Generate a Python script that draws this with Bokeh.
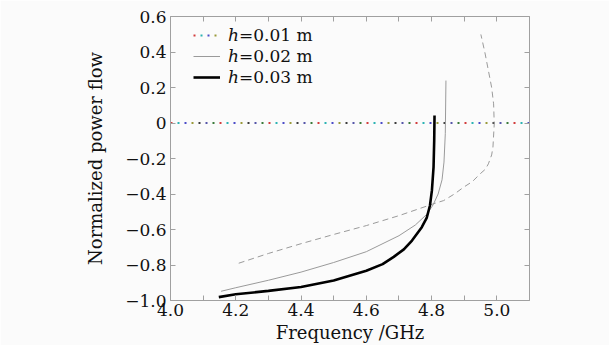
from bokeh.plotting import figure
from bokeh.models import (FixedTicker, LinearAxis, Range1d, Legend, LegendItem,
                          CustomJSTickFormatter)
from bokeh.embed import file_html
from bokeh.resources import INLINE

# ---- data ----
freq_h1 = [4.0, 5.1]
flow_h1 = [0.0, 0.0]

freq_h2 = [4.155, 4.20, 4.30, 4.40, 4.50, 4.60, 4.70, 4.75, 4.785, 4.805, 4.820,
           4.832, 4.838, 4.842, 4.844]
flow_h2 = [-0.948, -0.928, -0.886, -0.840, -0.786, -0.725, -0.635, -0.575, -0.515,
           -0.46, -0.40, -0.32, -0.22, -0.06, 0.239]

freq_h3 = [4.148, 4.20, 4.30, 4.40, 4.50, 4.60, 4.65, 4.684, 4.715, 4.740, 4.770,
           4.785, 4.795, 4.801, 4.806, 4.808, 4.809]
flow_h3 = [-0.981, -0.965, -0.946, -0.924, -0.887, -0.832, -0.795, -0.754, -0.712,
           -0.662, -0.587, -0.535, -0.465, -0.38, -0.249, -0.10, 0.042]

freq_dash = [4.209, 4.30, 4.40, 4.50, 4.60, 4.70, 4.806, 4.837, 4.870, 4.898, 4.925,
             4.949, 4.965, 4.974, 4.984, 4.988, 4.992, 4.990, 4.984, 4.974, 4.963, 4.951]
flow_dash = [-0.79, -0.735, -0.68, -0.628, -0.578, -0.522, -0.455, -0.437, -0.40,
             -0.362, -0.33, -0.286, -0.26, -0.23, -0.18, -0.136, -0.005, 0.108, 0.20,
             0.296, 0.40, 0.499]

x_ticks = [4.0, 4.2, 4.4, 4.6, 4.8, 5.0]
x_minor = [4.1, 4.3, 4.5, 4.7, 4.9, 5.1]
x_labels = ["4.0", "4.2", "4.4", "4.6", "4.8", "5.0"]
y_ticks = [-1.0, -0.8, -0.6, -0.4, -0.2, 0.0, 0.2, 0.4, 0.6]
y_labels = ["\u22121.0", "\u22120.8", "\u22120.6", "\u22120.4", "\u22120.2", "0",
            "0.2", "0.4", "0.6"]
legend_h = ["h", "h", "h"]
legend_rest = ["=0.01 m", "=0.02 m", "=0.03 m"]

dot_colors = ["#d23c3c", "#2bb3b3", "#4b4bc8", "#9a9a3a", "#3c3c3c", "#5555a8", "#3a7a3a"]

FONT = "DejaVu Serif"
FS = "17px"
FS_AX = "18px"
AX = "#a0a0a0"
BG = "#fbfbfb"

p = figure(frame_width=359, frame_height=284, min_border_left=170, min_border_top=16,
           min_border_right=80, min_border_bottom=45,
           x_range=Range1d(4.0, 5.1), y_range=Range1d(-1.0, 0.6),
           output_backend="svg", toolbar_location=None,
           background_fill_color=BG, border_fill_color=BG)
p.grid.visible = False
p.outline_line_color = None

dot_rs = []
for k, c in enumerate(dot_colors):
    r = p.line(freq_h1, flow_h1, line_color=c, line_width=2,
               line_dash="2 47", line_dash_offset=-7 * k)
    dot_rs.append(r)

r_dash = p.line(freq_dash, flow_dash, line_color="#9a9a9a", line_width=1,
                line_dash="6 4")
r2 = p.line(freq_h2, flow_h2, line_color="#9a9a9a", line_width=1)
r3 = p.line(freq_h3, flow_h3, line_color="#000000", line_width=2.6)

def style(ax, labels=True):
    ax.axis_line_color = AX
    ax.major_tick_line_color = AX
    ax.minor_tick_line_color = AX
    ax.major_tick_in = 5
    ax.major_tick_out = 0
    ax.minor_tick_in = 5
    ax.minor_tick_out = 0
    ax.major_label_text_font = FONT
    ax.major_label_text_font_size = FS
    ax.major_label_text_color = "#111111"
    ax.axis_label_text_font = FONT
    ax.axis_label_text_font_size = FS_AX
    ax.axis_label_text_font_style = "normal"
    ax.axis_label_text_color = "#111111"
    if not labels:
        ax.formatter = CustomJSTickFormatter(code="return ''")
        ax.major_label_standoff = 0

xax = p.xaxis[0]
xax.ticker = FixedTicker(ticks=x_ticks, minor_ticks=x_minor)
xax.major_label_overrides = dict(zip(x_ticks, x_labels))
xax.axis_label = "Frequency /GHz"
style(xax)
xax.major_label_standoff = 3
xax.axis_label_standoff = 3

yax = p.yaxis[0]
yax.ticker = FixedTicker(ticks=y_ticks)
yax.major_label_overrides = dict(zip(y_ticks, y_labels))
yax.axis_label = "Normalized power flow"
style(yax)
yax.major_label_standoff = 4
yax.axis_label_standoff = 16

top = LinearAxis(ticker=FixedTicker(ticks=x_ticks, minor_ticks=x_minor))
style(top, labels=False)
p.add_layout(top, "above")
right = LinearAxis(ticker=FixedTicker(ticks=y_ticks))
style(right, labels=False)
p.add_layout(right, "right")

rend_groups = [dot_rs, [r2], [r3]]
leg1 = Legend(items=[LegendItem(label=l, renderers=g) for l, g in zip(legend_h, rend_groups)],
              location=(23, 213), glyph_width=27, glyph_height=20, label_height=20,
              spacing=1, label_standoff=8, padding=0, margin=0,
              border_line_color=None, background_fill_alpha=0,
              label_text_font=FONT, label_text_font_size=FS,
              label_text_font_style="italic", label_text_color="#111111")
leg2 = Legend(items=[LegendItem(label=l, renderers=g) for l, g in zip(legend_rest, rend_groups)],
              location=(69, 213), glyph_width=0, glyph_height=20, label_height=20,
              spacing=1, label_standoff=0, padding=0, margin=0,
              border_line_color=None, background_fill_alpha=0,
              label_text_font=FONT, label_text_font_size=FS,
              label_text_color="#111111")
p.add_layout(leg1, "center")
p.add_layout(leg2, "center")

open("out.html", "w").write(file_html(p, INLINE))
